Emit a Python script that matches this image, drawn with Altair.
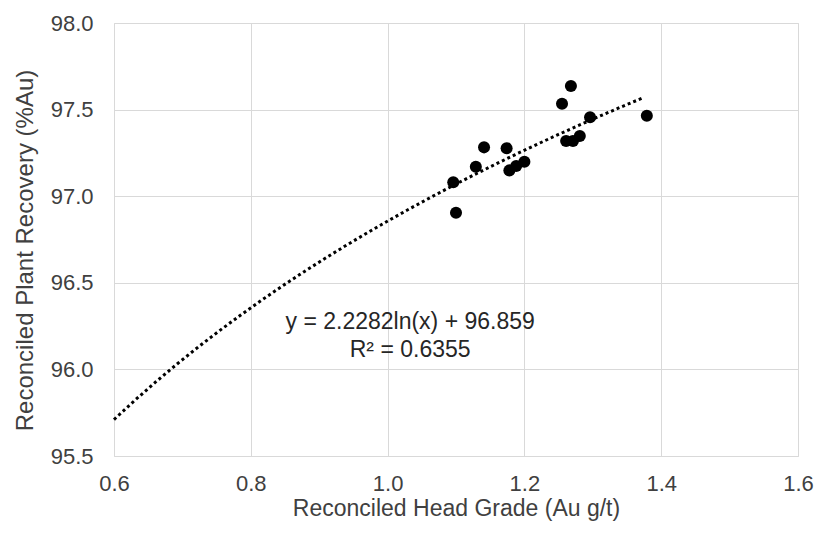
import altair as alt
import pandas as pd

head_grade = [1.096, 1.100, 1.129, 1.141, 1.174, 1.178, 1.188, 1.200, 1.255, 1.268, 1.261, 1.271, 1.281, 1.296, 1.379]
recovery = [97.080, 96.905, 97.170, 97.282, 97.277, 97.149, 97.174, 97.199, 97.534, 97.636, 97.319, 97.319, 97.348, 97.456, 97.465]

eq_lines = ["y = 2.2282ln(x) + 96.859", "R² = 0.6355"]
eq_x = [1.033, 1.033]
eq_y = [96.274, 96.112]

x_ticks = [0.6, 0.8, 1.0, 1.2, 1.4, 1.6]
y_ticks = [95.5, 96.0, 96.5, 97.0, 97.5, 98.0]

df = pd.DataFrame({"x": head_grade, "y": recovery})
df_eq = pd.DataFrame({"label": eq_lines, "x": eq_x, "y": eq_y})

xscale = alt.Scale(domain=[0.6, 1.6], nice=False)
yscale = alt.Scale(domain=[95.5, 98.0], nice=False, zero=False)

common = dict(format=".1f", ticks=False, domain=False, labelFontSize=22,
              labelColor="#404040", titleColor="#404040", titleFontWeight="normal",
              gridColor="#d9d9d9", labelFont="Liberation Sans", titleFont="Liberation Sans",
              labelFlush=False, labelOverlap=False)

xaxis = alt.Axis(title="Reconciled Head Grade (Au g/t)", values=x_ticks, titleFontSize=23,
                 labelPadding=17, titlePadding=3, **common)
yaxis = alt.Axis(title="Reconciled Plant Recovery (%Au)", values=y_ticks, titleFontSize=24,
                 labelPadding=21, titlePadding=13, titleY=227, **common)

base = alt.Chart(df)

points = base.mark_circle(size=145, color="black", opacity=1).encode(
    x=alt.X("x:Q", scale=xscale, axis=xaxis),
    y=alt.Y("y:Q", scale=yscale, axis=yaxis),
)

trend = base.transform_regression("x", "y", method="log", extent=[0.6, 1.372]).mark_line(
    color="black", strokeDash=[3, 3], strokeWidth=3, strokeCap="butt"
).encode(x="x:Q", y="y:Q")

eq = alt.Chart(df_eq).mark_text(fontSize=23, font="Liberation Sans", color="#262626").encode(
    x="x:Q", y="y:Q", text="label:N"
)

chart = alt.layer(trend, points, eq).properties(
    width=684, height=433,
    autosize=alt.AutoSizeParams(type="none"),
    padding={"left": 106, "top": 15, "right": 16, "bottom": 69},
).configure_view(stroke="#404040", strokeWidth=1.5).configure(background="white")

chart.save("out.html", embed_options={"renderer": "svg", "actions": False})
